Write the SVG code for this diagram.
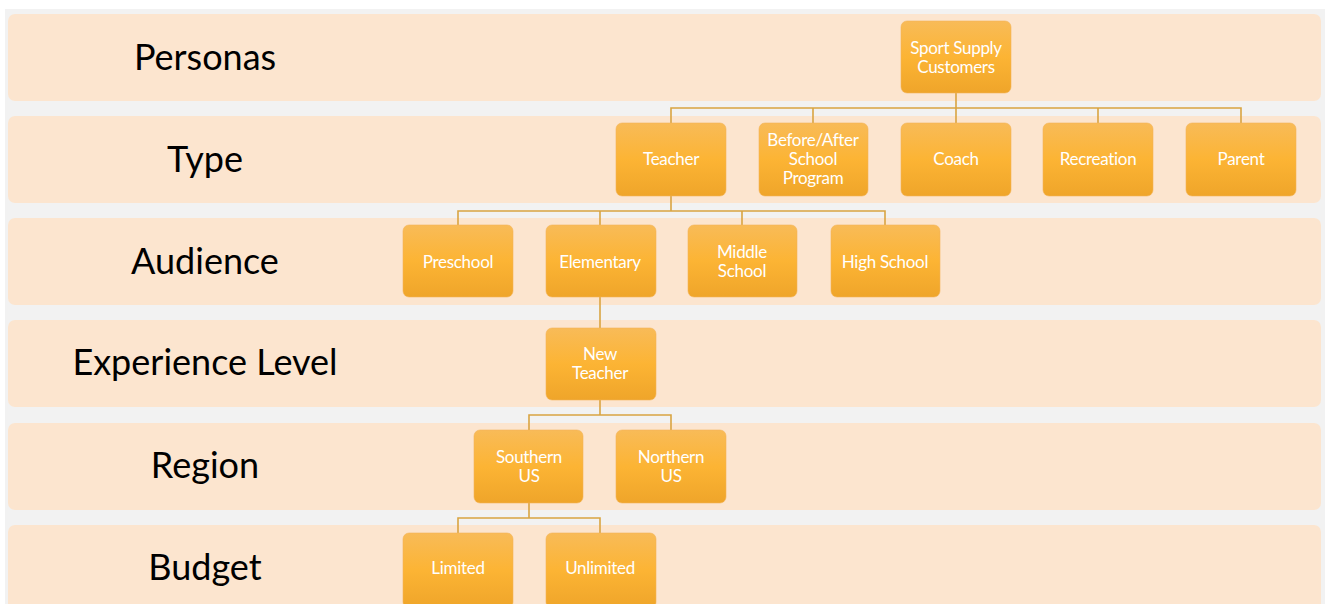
<svg xmlns="http://www.w3.org/2000/svg" width="1325" height="604" viewBox="0 0 1325 604">
<defs>
<linearGradient id="ng" x1="0" y1="0" x2="0" y2="1">
<stop offset="0" stop-color="#f8bb58"/>
<stop offset="0.5" stop-color="#fcb434"/>
<stop offset="1" stop-color="#efa52a"/>
</linearGradient>
<style>
.band{fill:#fce5cf}
.node rect{fill:url(#ng);stroke:#f3b457;stroke-width:0.6}
.node text{fill:#ffffff;font-family:Lato,"Open Sans",sans-serif;font-size:17px;text-anchor:middle;letter-spacing:-0.3px}
.lbl{fill:#000000;font-family:Lato,"Open Sans",sans-serif;font-size:36px;text-anchor:middle}
#connectors path{fill:none;stroke:#d9a441;stroke-width:1.6}
</style>
</defs>
<rect x="0" y="0" width="1325" height="604" fill="#ffffff"/>
<rect x="5" y="9" width="1320" height="595" fill="#f2f2f2"/>
<g id="bands">
<rect class="band" x="8" y="14" width="1313" height="87" rx="7"/>
<rect class="band" x="8" y="116" width="1313" height="87" rx="7"/>
<rect class="band" x="8" y="218" width="1313" height="87" rx="7"/>
<rect class="band" x="8" y="320" width="1313" height="87" rx="7"/>
<rect class="band" x="8" y="423" width="1313" height="87" rx="7"/>
<rect class="band" x="8" y="525" width="1313" height="95" rx="7"/>
</g>
<g id="labels">
<text class="lbl" x="205" y="70">Personas</text>
<text class="lbl" x="205" y="172">Type</text>
<text class="lbl" x="205" y="274">Audience</text>
<text class="lbl" x="205" y="375">Experience Level</text>
<text class="lbl" x="205" y="478">Region</text>
<text class="lbl" x="205" y="580">Budget</text>
</g>
<g id="connectors">
<path d="M956 93 V108 M671 123 V108 H1241 V123 M813 108 V123 M956 108 V123 M1098 108 V123"/>
<path d="M671 196 V211 M458 225 V211 H885 V225 M600 211 V225 M742 211 V225"/>
<path d="M600 297 V328"/>
<path d="M600 400 V415 M529 430 V415 H671 V430"/>
<path d="M529 503 V518 M458 533 V518 H600 V533"/>
</g>
<g id="n-sport" class="node"><rect x="901" y="21" width="110" height="72" rx="6"/><text x="956" y="54">Sport Supply</text><text x="956" y="73">Customers</text></g>
<g id="n-teacher" class="node"><rect x="616" y="123" width="110" height="73" rx="6"/><text x="671" y="165">Teacher</text></g>
<g id="n-beforeafter" class="node"><rect x="759" y="123" width="109" height="73" rx="6"/><text x="813" y="146">Before/After</text><text x="813" y="165">School</text><text x="813" y="184">Program</text></g>
<g id="n-coach" class="node"><rect x="901" y="123" width="110" height="73" rx="6"/><text x="956" y="165">Coach</text></g>
<g id="n-recreation" class="node"><rect x="1043" y="123" width="110" height="73" rx="6"/><text x="1098" y="165">Recreation</text></g>
<g id="n-parent" class="node"><rect x="1186" y="123" width="110" height="73" rx="6"/><text x="1241" y="165">Parent</text></g>
<g id="n-preschool" class="node"><rect x="403" y="225" width="110" height="72" rx="6"/><text x="458" y="268">Preschool</text></g>
<g id="n-elementary" class="node"><rect x="546" y="225" width="110" height="72" rx="6"/><text x="600" y="268">Elementary</text></g>
<g id="n-middle" class="node"><rect x="688" y="225" width="109" height="72" rx="6"/><text x="742" y="258">Middle</text><text x="742" y="277">School</text></g>
<g id="n-high" class="node"><rect x="831" y="225" width="109" height="72" rx="6"/><text x="885" y="268">High School</text></g>
<g id="n-newteacher" class="node"><rect x="546" y="328" width="110" height="72" rx="6"/><text x="600" y="360">New</text><text x="600" y="379">Teacher</text></g>
<g id="n-southern" class="node"><rect x="474" y="430" width="109" height="73" rx="6"/><text x="529" y="463">Southern</text><text x="529" y="482">US</text></g>
<g id="n-northern" class="node"><rect x="616" y="430" width="110" height="73" rx="6"/><text x="671" y="463">Northern</text><text x="671" y="482">US</text></g>
<g id="n-limited" class="node"><rect x="403" y="533" width="110" height="75" rx="6"/><text x="458" y="574">Limited</text></g>
<g id="n-unlimited" class="node"><rect x="546" y="533" width="110" height="75" rx="6"/><text x="600" y="574">Unlimited</text></g>
</svg>
